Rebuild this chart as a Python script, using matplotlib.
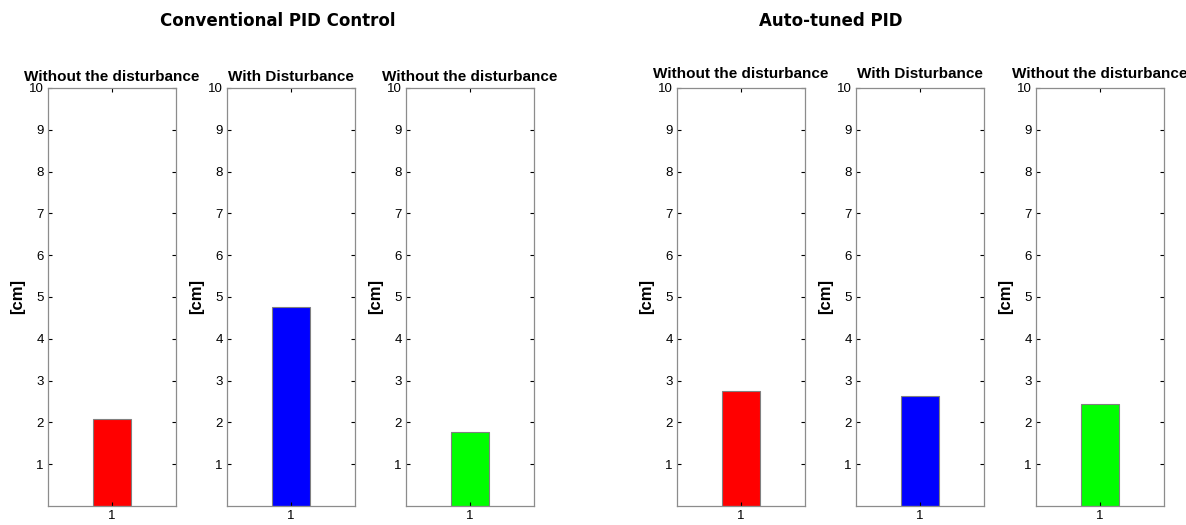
import matplotlib.pyplot as plt

# data
panel_titles = ["Without the disturbance", "With Disturbance", "Without the disturbance"]
conventional = [2.08, 4.76, 1.78]
auto_tuned = [2.76, 2.63, 2.43]
bar_colors = ["#ff0000", "#0000ff", "#00ff00"]
yticks = [1, 2, 3, 4, 5, 6, 7, 8, 9, 10]

plt.rcParams["font.family"] = ["Liberation Sans", "DejaVu Sans"]

fig = plt.figure(figsize=(11.86, 5.25), dpi=100)
W, H = 1186.0, 525.0

# pixel left/right edges of the six axes
lefts = [48, 227, 406, 677, 856, 1036]
rights = [176, 355, 534, 805, 984, 1164]
top, bottom = 88, 506

values = conventional + auto_tuned
for i in range(6):
    ax = fig.add_axes([lefts[i] / W, (H - bottom) / H, (rights[i] - lefts[i]) / W, (bottom - top) / H])
    ax.bar([1], [values[i]], width=0.6, color=bar_colors[i % 3], edgecolor="#808080", linewidth=0.8)
    ax.set_xlim(0, 2)
    ax.set_ylim(0, 10)
    ax.set_yticks(yticks)
    ax.set_xticks([1])
    ax.tick_params(direction="in", length=3, width=0.8, labelsize=9.5, top=True, right=True, pad=3)
    for s in ax.spines.values():
        s.set_color("#8c8c8c")
        s.set_linewidth(0.9)
    ax.set_title(panel_titles[i % 3], fontsize=11, fontweight="bold", pad=5 if i < 3 else 7)
    ax.set_ylabel("[cm]", fontsize=12, fontweight="bold", labelpad=3)

fig.text(278 / W, 1 - 21 / H, "Conventional PID Control", ha="center", va="center",
         fontsize=12, fontweight="heavy", family=["DejaVu Sans"])
fig.text(831 / W, 1 - 21 / H, "Auto-tuned PID", ha="center", va="center",
         fontsize=12, fontweight="heavy", family=["DejaVu Sans"])

fig.savefig("out.png", dpi=100)
